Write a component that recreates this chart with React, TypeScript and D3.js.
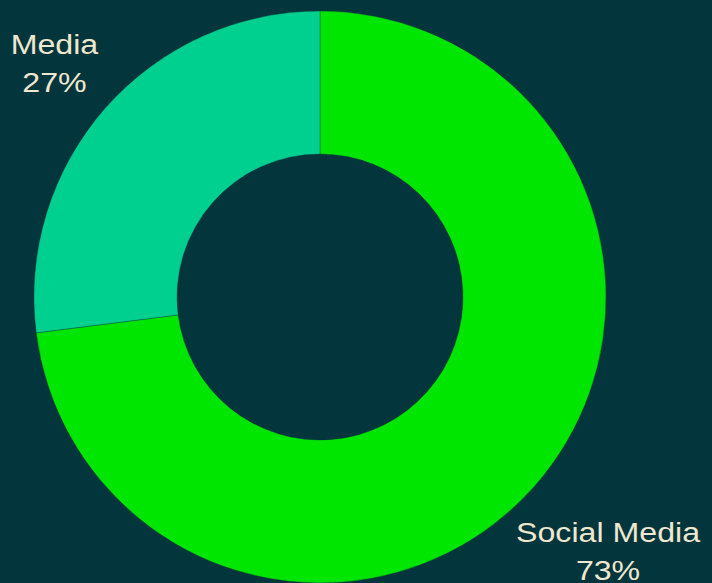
import React from "react";
import * as d3 from "d3";

const categories = ["Social Media", "Media"];
const values = [73, 27];
const colors = ["#00e600", "#00d08f"];

const W = 712;
const H = 583;
const cx = 320;
const cy = 297;
const outerR = 286;
const innerR = 143;
const labelR = [384, 354];

export default function App() {
  const pie = d3.pie<number>().sort(null).value((d) => d)(values);
  const arc = d3.arc<d3.PieArcDatum<number>>().innerRadius(innerR).outerRadius(outerR);
  const total = d3.sum(values);
  return (
    <svg width={W} height={H} style={{ position: "absolute", left: 0, top: 0, display: "block" }}>
      <rect width={W} height={H} fill="#03353c" />
      <g transform={`translate(${cx},${cy})`}>
        {pie.map((p, i) => (
          <path key={i} d={arc(p) || ""} fill={colors[i]} stroke="#03353c" strokeOpacity={0.35} strokeWidth={1} />
        ))}
        {pie.map((p, i) => {
          const mid = (p.startAngle + p.endAngle) / 2;
          const x = Math.sin(mid) * labelR[i];
          const y = -Math.cos(mid) * labelR[i];
          return (
            <text key={"t" + i} transform={`translate(${x},${y}) scale(1.17,1)`} textAnchor="middle" fill="#efe8d0"
              fontFamily="'Liberation Sans', Arial, sans-serif" fontSize={27.5}>
              <tspan x={0} y={-9}>{categories[i]}</tspan>
              <tspan x={0} y={29}>{Math.round((values[i] / total) * 100)}%</tspan>
            </text>
          );
        })}
      </g>
    </svg>
  );
}
